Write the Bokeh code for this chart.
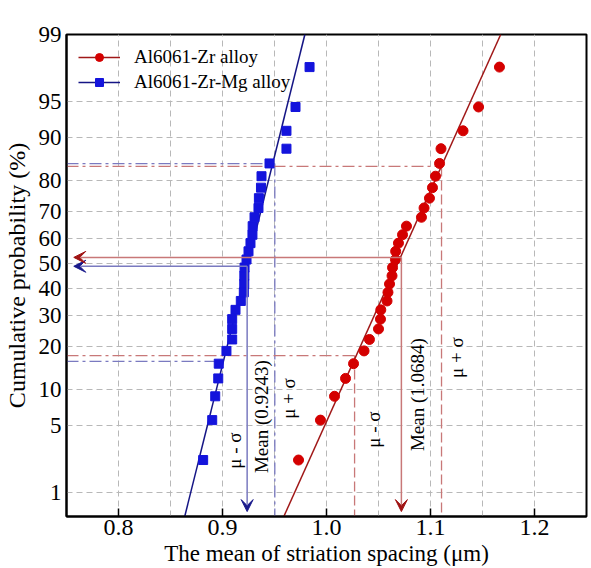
import math
from bokeh.plotting import figure
from bokeh.models import (Range1d, FixedTicker, PrintfTickFormatter, Arrow, VeeHead,
                          Legend, LegendItem)
from bokeh.core.properties import value
from bokeh.embed import file_html
from bokeh.resources import INLINE

# ---------------- data ----------------
prob_ticks = [1, 5, 10, 20, 30, 40, 50, 60, 70, 80, 90, 95, 99]
x_ticks = [0.8, 0.9, 1.0, 1.1, 1.2]
x_grid = [0.8, 0.85, 0.9, 0.95, 1.0, 1.05, 1.1, 1.15, 1.2]

# cumulative probability (%) of each ranked point (30 samples per alloy)
cum_prob = [2.30, 5.59, 8.88, 12.17, 15.46, 18.75, 22.04, 25.33, 28.62, 31.91,
            35.20, 38.49, 41.78, 45.07, 48.36, 51.64, 54.93, 58.22, 61.51, 64.80,
            68.09, 71.38, 74.67, 77.96, 81.25, 84.54, 87.83, 91.12, 94.41, 97.70]

zr_spacing = [0.9731, 0.9942, 1.0077, 1.0183, 1.0260, 1.0361, 1.0413, 1.0500, 1.0519, 1.0522,
              1.0582, 1.0591, 1.0606, 1.0630, 1.0635, 1.0663, 1.0665, 1.0692, 1.0731, 1.0769,
              1.0913, 1.0938, 1.0990, 1.1019, 1.1048, 1.1087, 1.1101, 1.1313, 1.1462, 1.1663]

zrmg_spacing = [0.8814, 0.8901, 0.8930, 0.8959, 0.8964, 0.9038, 0.9093, 0.9093, 0.9093, 0.9125,
                0.9176, 0.9205, 0.9209, 0.9210, 0.9212, 0.9231, 0.9250, 0.9269, 0.9288, 0.9290,
                0.9308, 0.9346, 0.9350, 0.9370, 0.9375, 0.9452, 0.9615, 0.9615, 0.9702, 0.9837]

# normal fits
zr_mu, zr_sigma = 1.0684, 0.0426
zrmg_mu, zrmg_sigma = 0.9243, 0.0236

# guide lines (x, cumulative %)
zrmg_mean = (0.9237, 48.9)
zrmg_plus = (0.9503, 84.5)
zrmg_minus = (0.8965, 16.0)
zr_mean = (1.0720, 52.5)
zr_plus = (1.1106, 83.8)
zr_minus = (1.0270, 17.5)

# ---------------- helpers ----------------
def probit(pct):
    q = pct / 100.0
    lo, hi = -10.0, 10.0
    for _ in range(200):
        mid = 0.5 * (lo + hi)
        if 0.5 * (1.0 + math.erf(mid / math.sqrt(2.0))) < q:
            lo = mid
        else:
            hi = mid
    return 0.5 * (lo + hi)

FONT = "'Liberation Serif', 'Times New Roman', serif"
Y_BOT = probit(0.51)
Y_TOP = probit(99)
X_LO, X_HI = 0.75, 1.25

p = figure(width=591, height=568, output_backend="svg", toolbar_location=None,
           x_range=Range1d(X_LO, X_HI), y_range=Range1d(Y_BOT, Y_TOP),
           min_border_left=65, min_border_right=5, min_border_top=34, min_border_bottom=52)
p.background_fill_color = "white"
p.border_fill_color = "white"
p.outline_line_color = "black"
p.outline_line_width = 2

# axes
yt = [probit(v) for v in prob_ticks]
p.yaxis.ticker = FixedTicker(ticks=yt)
p.yaxis.major_label_overrides = {t: str(v) for t, v in zip(yt, prob_ticks)}
p.xaxis.ticker = FixedTicker(ticks=x_ticks)
p.xaxis.formatter = PrintfTickFormatter(format="%.1f")
p.xgrid.ticker = FixedTicker(ticks=x_grid)

for ax in (p.xaxis[0], p.yaxis[0]):
    ax.axis_line_color = "black"
    ax.axis_line_width = 2
    ax.major_label_text_font = FONT
    ax.major_label_text_color = "black"
    ax.axis_label_text_font = FONT
    ax.axis_label_text_font_style = "normal"
    ax.axis_label_text_color = "black"
    ax.minor_tick_line_color = None
    ax.major_tick_out = 0

p.xaxis.major_tick_in = 8
p.xaxis.major_tick_line_width = 1.5
p.xaxis.major_tick_line_color = "black"
p.yaxis.major_tick_in = 0
p.yaxis.major_tick_line_color = None

p.xaxis.axis_label = "The mean of striation spacing (\u03bcm)"
p.yaxis.axis_label = "Cumulative probability (%)"
p.xaxis.major_label_text_font_size = "24px"
p.yaxis.major_label_text_font_size = "23px"
p.xaxis.axis_label_text_font_size = "23px"
p.yaxis.axis_label_text_font_size = "24px"
p.xaxis.major_label_standoff = 3
p.xaxis.axis_label_standoff = 3
p.yaxis.major_label_standoff = 5
p.yaxis.axis_label_standoff = 6

for g in (p.xgrid[0], p.ygrid[0]):
    g.grid_line_color = "#b8b8b8"
    g.grid_line_dash = "6 4"
    g.grid_line_width = 1

# ---------------- guide lines ----------------
BLUE_G = "#7a7ac0"
RED_G = "#c87878"
BLUE_D = "#1a1a8c"
RED_D = "#a01414"
DASHDOT = "12 4 3 4"
DASH = "10 4"

def seg(x0, p0, x1, p1, color, dash="solid", width=1.3):
    p.line([x0, x1], [p0, p1], line_color=color, line_dash=dash, line_width=width)

# Zr-Mg
seg(X_LO, probit(zrmg_plus[1]), zrmg_plus[0], probit(zrmg_plus[1]), BLUE_G, DASHDOT)
seg(zrmg_plus[0], probit(zrmg_plus[1]), zrmg_plus[0], Y_BOT, BLUE_G, DASHDOT)
seg(X_LO, probit(zrmg_minus[1]), zrmg_minus[0], probit(zrmg_minus[1]), BLUE_G, DASHDOT)
# Zr
seg(X_LO, probit(zr_plus[1]), zr_plus[0], probit(zr_plus[1]), RED_G, DASHDOT)
seg(zr_plus[0], probit(zr_plus[1]), zr_plus[0], Y_BOT, RED_G, DASH)
seg(X_LO, probit(zr_minus[1]), zr_minus[0], probit(zr_minus[1]), RED_G, DASHDOT)
seg(zr_minus[0], probit(zr_minus[1]), zr_minus[0], Y_BOT, RED_G, DASH)

def mean_arrows(mean, lcolor, hcolor):
    y = probit(mean[1])
    p.add_layout(Arrow(end=VeeHead(size=12, fill_color=hcolor, line_color=hcolor),
                       x_start=mean[0], y_start=y, x_end=X_LO + 0.007, y_end=y,
                       line_color=lcolor, line_width=1.5))
    p.add_layout(Arrow(end=VeeHead(size=12, fill_color=hcolor, line_color=hcolor),
                       x_start=mean[0], y_start=y, x_end=mean[0], y_end=Y_BOT + 0.05,
                       line_color=lcolor, line_width=1.5))

mean_arrows(zrmg_mean, BLUE_G, BLUE_D)
mean_arrows(zr_mean, RED_G, RED_D)

# ---------------- fitted lines and data ----------------
zb = [Y_BOT, Y_TOP]
zr_line = p.line([zr_mu + zr_sigma * z for z in zb], zb, line_color="#a01818", line_width=1.5)
zrmg_line = p.line([zrmg_mu + zrmg_sigma * z for z in zb], zb, line_color="#151585", line_width=1.5)

zr_pts = p.scatter(zr_spacing, [probit(v) for v in cum_prob], marker="circle", size=10,
                   fill_color="#d40000", line_color="#d40000")
zrmg_pts = p.scatter(zrmg_spacing, [probit(v) for v in cum_prob], marker="square", size=9,
                     fill_color="#1414dc", line_color="#1414dc")

# ---------------- rotated annotations ----------------
ann_x = [0.9115, 0.9375, 0.9635, 1.0452, 1.0875, 1.1250]
ann_y = [-1.90, -1.554, -1.371, -1.686, -1.331, -0.955]
ann_t = ["\u03bc - \u03c3", "Mean (0.9243)", "\u03bc + \u03c3",
         "\u03bc - \u03c3", "Mean (1.0684)", "\u03bc + \u03c3"]
p.text(x=ann_x, y=ann_y, text=ann_t, angle=math.pi / 2, text_font=value(FONT),
       text_font_size="19px", text_align="center", text_baseline="middle", text_color="black")

# ---------------- legend ----------------
legend = Legend(items=[
    LegendItem(label="Al6061-Zr alloy", renderers=[zr_line, zr_pts]),
    LegendItem(label="Al6061-Zr-Mg alloy", renderers=[zrmg_line, zrmg_pts]),
], location="top_left")
legend.background_fill_alpha = 0
legend.border_line_alpha = 0
legend.label_text_font = FONT
legend.label_text_font_size = "19px"
legend.label_text_color = "black"
legend.glyph_width = 42
legend.glyph_height = 20
legend.label_height = 20
legend.label_standoff = 14
legend.spacing = 3
legend.padding = 12
legend.margin = 0
p.add_layout(legend)

open("out.html", "w").write(file_html(p, INLINE))
